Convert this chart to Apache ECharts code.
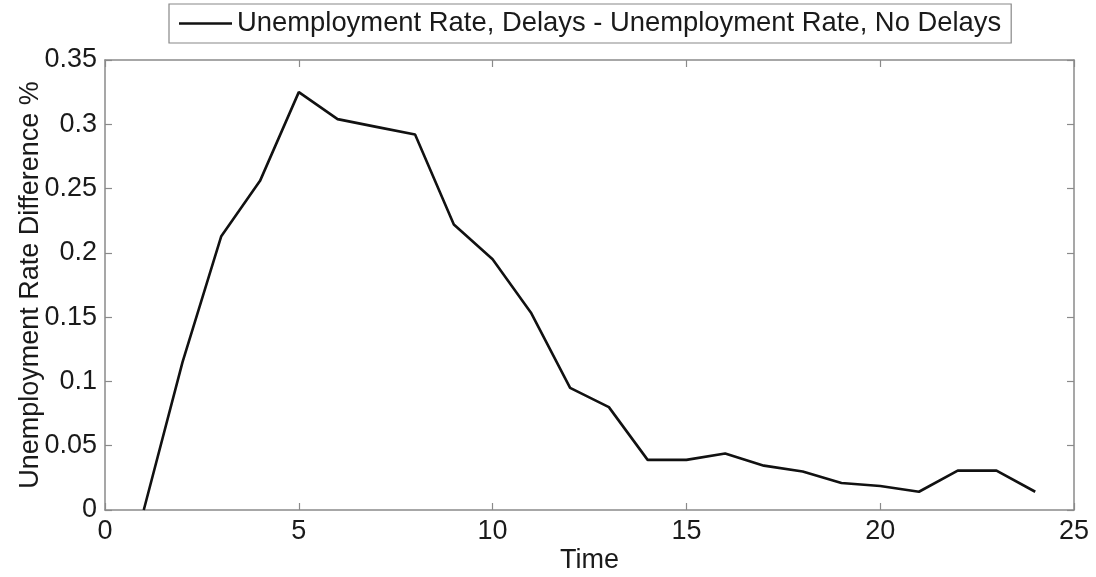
<!DOCTYPE html>
<html><head><meta charset="utf-8">
<script src="https://cdn.jsdelivr.net/npm/echarts@6/dist/echarts.min.js"></script>
<style>html,body{margin:0;padding:0;background:#fff}#c{width:1096px;height:577px}</style>
</head><body><div id="c"></div>
<script>
const times = [1,2,3,4,5,6,7,8,9,10,11,12,13,14,15,16,17,18,19,20,21,22,23,24];
const diffValues = [0,0.115,0.213,0.256,0.325,0.304,0.298,0.292,0.222,0.195,0.153,0.095,0.080,0.039,0.039,0.044,0.0345,0.030,0.021,0.0187,0.0142,0.0306,0.0306,0.0142];
const seriesName = 'Unemployment Rate, Delays - Unemployment Rate, No Delays';
const xTicks = [0,5,10,15,20,25];
const yTicks = [0,0.05,0.1,0.15,0.2,0.25,0.3,0.35];

const font = 'Liberation Sans, Arial, sans-serif';
const axisColor = '#8a8a8a';
const textColor = '#1a1a1a';
const fs = 27;
const chart = echarts.init(document.getElementById('c'));
const baseX = {type:'value', min:0, max:25, interval:5,
  axisLine:{show:true, onZero:false, lineStyle:{color:axisColor, width:1.5}},
  axisTick:{show:true, inside:true, length:7, lineStyle:{color:axisColor, width:1.2}},
  splitLine:{show:false}};
const baseY = {type:'value', min:0, max:0.35, interval:0.05,
  axisLine:{show:true, onZero:false, lineStyle:{color:axisColor, width:1.5}},
  axisTick:{show:true, inside:true, length:7, lineStyle:{color:axisColor, width:1.2}},
  splitLine:{show:false}};
chart.setOption({
  animation:false,
  backgroundColor:'#fff',
  textStyle:{fontFamily:font},
  grid:{left:105, right:22, top:60, bottom:67, containLabel:false, outerBoundsMode:'none'},
  legend:{show:true, left:169, top:4, padding:[6,10,6,10],
    borderColor:'#888', borderWidth:1.2, backgroundColor:'#fff',
    itemWidth:53, itemHeight:14,
    textStyle:{fontSize:27.4, color:textColor, fontFamily:font},
    data:[{name:seriesName, icon:'path://M0,6L53,6L53,8.5L0,8.5Z'}]},
  xAxis:[
    Object.assign({}, baseX, {position:'bottom', name:'Time', nameLocation:'middle', nameGap:37, nameMoveOverlap:false,
      nameTextStyle:{fontSize:fs, color:textColor, fontFamily:font},
      axisLabel:{show:true, fontSize:fs, color:textColor, margin:8, fontFamily:font,
        formatter: v => xTicks.includes(v) ? String(v) : ''}}),
    Object.assign({}, baseX, {position:'top', axisLabel:{show:false}})
  ],
  yAxis:[
    Object.assign({}, baseY, {position:'left', name:'Unemployment Rate Difference %', nameLocation:'middle', nameGap:61, nameMoveOverlap:false,
      nameTextStyle:{fontSize:fs, color:textColor, fontFamily:font},
      axisLabel:{show:true, fontSize:fs, color:textColor, margin:8, fontFamily:font,
        formatter: v => { const t = yTicks.find(k => Math.abs(k - v) < 1e-9); return t === undefined ? '' : String(t); }}}),
    Object.assign({}, baseY, {position:'right', axisLabel:{show:false}})
  ],
  series:[{name:seriesName, type:'line', xAxisIndex:0, yAxisIndex:0,
    data: times.map((t,i) => [t, diffValues[i]]),
    showSymbol:false, symbol:'none', lineStyle:{color:'#111', width:2.6}, itemStyle:{color:'#111'}}]
});
</script></body></html>
